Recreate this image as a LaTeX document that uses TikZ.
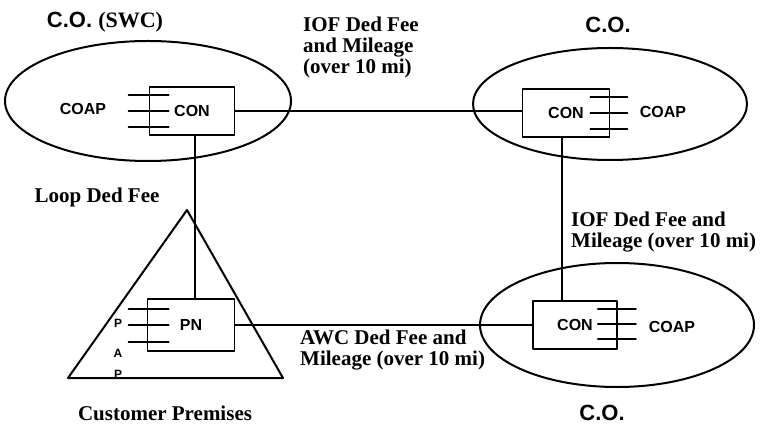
\documentclass[tikz,border=0pt]{standalone}
\usepackage{fontspec}
\setmainfont{Liberation Serif}
\setsansfont{Liberation Sans}
\usetikzlibrary{shapes.geometric,positioning}

\tikzset{
  office/.style={draw, ellipse, line width=2pt},
  unitbox/.style={draw, rectangle, line width=1.8pt, minimum width=85pt, minimum height=48pt, inner sep=0pt, font=\sffamily\bfseries\fontsize{16}{16}\selectfont},
  unitlbl/.style={inner sep=0pt, font=\sffamily\bfseries\fontsize{16}{16}\selectfont},
  colbl/.style={inner sep=0pt, font=\sffamily\bfseries\fontsize{22}{22}\selectfont},
  feelbl/.style={inner sep=0pt, align=left, font=\bfseries\fontsize{21}{21}\selectfont},
  link/.style={line width=1.8pt},
}

\begin{document}
\begin{tikzpicture}[x=1pt, y=-1pt, line cap=round, line join=round]
    \path[use as bounding box] (0,0) rectangle (783,427);
    % central offices
    \node[office, minimum width=286pt, minimum height=120pt] (swc) at (148,101) {};
    \node[office, minimum width=274pt, minimum height=112pt] (coB) at (610,104) {};
    \node[office, minimum width=274pt, minimum height=124pt] (coC) at (617,325) {};
    % customer premises
    \coordinate (T1) at (187,210);
    \coordinate (T2) at (68,378);
    \coordinate (T3) at (283,378);
    \draw[line width=2pt] (T1) -- (T2) -- (T3) -- cycle;
    % boxes
    \node[unitbox] (conA) at (192,111) {CON};
    \node[unitbox, minimum width=87pt] (conB) at (566,113) {CON};
    \node[unitbox, minimum width=84pt] (conC) at (575,325) {CON};
    \node[unitbox, minimum width=87pt, minimum height=52pt] (pn) at (191,325) {PN};
    % stubs
    \foreach \dy in {-16,0,16} \draw[link] ([yshift=\dy pt]conA.west) ++(-20,0) -- ++(40,0);
    \foreach \dy in {-16,0,16} \draw[link] ([yshift=\dy pt]conB.east) ++(-20,0) -- ++(37,0);
    \foreach \dy in {-14,1,16} \draw[link] ([yshift=\dy pt]conC.east) ++(-20,0) -- ++(38,0);
    \foreach \dy in {-17,0,16} \draw[link] ([yshift=\dy pt]pn.west) ++(-18,0) -- ++(40,0);
    % connections
    \draw[link] (conA.east) -- (conA.east -| conB.west);
    \draw[link] ([xshift=3pt]conA.south) -- ([xshift=3pt]conA.south |- pn.north);
    \draw[link] ([xshift=-4pt]conB.south) -- ([xshift=-4pt]conB.south |- conC.north);
    \draw[link] (pn.east) -- (pn.east -| conC.west);
    % labels
    \node[unitlbl] (coapA) at (83,109) {COAP};
    \node[unitlbl] (coapB) at (663,112) {COAP};
    \node[unitlbl] (coapC) at (672,327) {COAP};
    \node[unitlbl, font=\sffamily\bfseries\fontsize{12}{12}\selectfont] (papP) at (118,323) {P};
    \node[unitlbl, font=\sffamily\bfseries\fontsize{12}{12}\selectfont] (papA) at (118,353) {A};
    \node[unitlbl, font=\sffamily\bfseries\fontsize{12}{12}\selectfont] (papQ) at (118,374) {P};
    \node[colbl] (swcLbl) at (105,22) {C.O. {\rmfamily(SWC)}};
    \node[colbl] (coBLbl) at (608,25) {C.O.};
    \node[colbl] (coCLbl) at (602,413) {C.O.};
    \node[feelbl] (loopLbl) at (97,197) {Loop Ded Fee};
    \node[feelbl] (custLbl) at (165,413) {Customer Premises};
    \node[feelbl, anchor=west] (iofTop) at (303,47) {IOF Ded Fee\\and Mileage\\(over 10 mi)};
    \node[feelbl, anchor=west] (iofSide) at (571,232) {IOF Ded Fee and\\Mileage (over 10 mi)};
    \node[feelbl, anchor=west] (awcLbl) at (300,350) {AWC Ded Fee and\\Mileage (over 10 mi)};
\end{tikzpicture}
\end{document}
